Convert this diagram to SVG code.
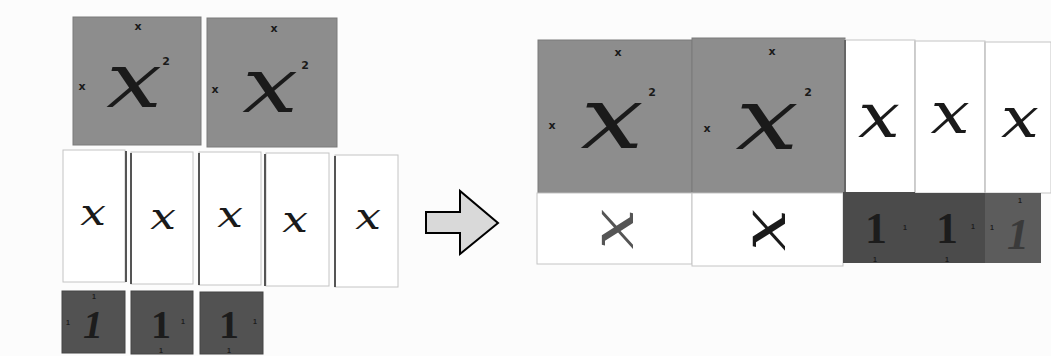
<svg xmlns="http://www.w3.org/2000/svg" width="1051" height="356" viewBox="0 0 1051 356">
<style>
.sq{fill:#8d8d8d;stroke:#7a7a7a;stroke-width:1}
.wt{fill:#ffffff;stroke:#c4c4c4;stroke-width:1}
.dk{fill:#525252;stroke:#444;stroke-width:1}
.dk2{fill:#4b4b4b}
.dk3{fill:#5c5c5c}
.hx{font-family:"DejaVu Serif",serif;font-style:italic;fill:#1a1a1a;text-anchor:middle}
.lb{font-family:"DejaVu Sans",sans-serif;font-weight:bold;fill:#1a1a1a;text-anchor:middle;font-size:11px}
.one{font-family:"Liberation Serif",serif;font-weight:bold;fill:#1c1c1c;text-anchor:middle}
.s1{font-family:"Liberation Sans",sans-serif;font-weight:bold;fill:#1c1c1c;text-anchor:middle;font-size:7px}
.sh{stroke:#555;stroke-width:2}
</style>
<rect width="1051" height="356" fill="#fcfcfc"/>

<!-- left side -->
<g id="x2-left-1">
<rect class="sq" x="73" y="17" width="128" height="128"/>
<text class="lb" x="138" y="30">x</text>
<text class="lb" x="82" y="90">x</text>
<text class="hx" x="0" y="0" font-size="76" transform="translate(134,107) scale(1.3,1)">x</text>
<text class="lb" x="166" y="65" font-size="14">2</text>
</g>
<g id="x2-left-2">
<rect class="sq" x="207" y="18" width="130" height="129"/>
<text class="lb" x="274" y="32">x</text>
<text class="lb" x="215" y="93">x</text>
<text class="hx" x="0" y="0" font-size="76" transform="translate(270,112) scale(1.3,1)">x</text>
<text class="lb" x="305" y="69" font-size="14">2</text>
</g>

<g id="x-left-1">
<rect class="wt" x="63" y="150" width="62" height="132"/>
<line class="sh" x1="126" y1="151" x2="126" y2="282"/>
<text class="hx" x="0" y="0" font-size="38" transform="translate(93,225) scale(1.2,1)">x</text>
</g>
<g id="x-left-2">
<rect class="wt" x="131" y="152" width="62" height="132"/>
<line class="sh" x1="131" y1="153" x2="131" y2="284" stroke="#999"/>
<text class="hx" x="0" y="0" font-size="38" transform="translate(163,229) scale(1.2,1)">x</text>
</g>
<g id="x-left-3">
<rect class="wt" x="199" y="152" width="62" height="133"/>
<line class="sh" x1="199" y1="153" x2="199" y2="285" stroke="#888"/>
<text class="hx" x="0" y="0" font-size="38" transform="translate(230,227) scale(1.2,1)">x</text>
</g>
<g id="x-left-4">
<rect class="wt" x="266" y="153" width="63" height="133"/>
<line class="sh" x1="265" y1="154" x2="265" y2="286" stroke="#888"/>
<text class="hx" x="0" y="0" font-size="38" transform="translate(295,232) scale(1.2,1)">x</text>
</g>
<g id="x-left-5">
<rect class="wt" x="335" y="155" width="63" height="132"/>
<line class="sh" x1="335" y1="156" x2="335" y2="287" stroke="#888"/>
<text class="hx" x="0" y="0" font-size="38" transform="translate(368,229) scale(1.2,1)">x</text>
</g>

<g id="one-left-1">
<rect class="dk" x="62" y="291" width="63" height="62"/>
<text class="one" x="93" y="338" font-size="40" font-style="italic">1</text>
<text class="s1" x="94" y="299">1</text>
<text class="s1" x="68" y="325">1</text>
</g>
<g id="one-left-2">
<rect class="dk" x="131" y="291" width="62" height="63"/>
<text class="one" x="161" y="338" font-size="40">1</text>
<text class="s1" x="183" y="324">1</text>
<text class="s1" x="161" y="353">1</text>
</g>
<g id="one-left-3">
<rect class="dk" x="200" y="292" width="63" height="62"/>
<text class="one" x="229" y="338" font-size="40">1</text>
<text class="s1" x="255" y="324">1</text>
<text class="s1" x="229" y="353">1</text>
</g>

<!-- arrow -->
<g id="arrow">
<polygon points="426,212 460,212 460,191 498,223 460,254 460,233 426,233" fill="#d9d9d9" stroke="#000" stroke-width="2" stroke-linejoin="miter"/>
</g>

<!-- right side -->
<g id="x2-right-1">
<rect class="sq" x="538" y="40" width="154" height="153"/>
<text class="lb" x="618" y="56">x</text>
<text class="lb" x="552" y="129">x</text>
<text class="hx" x="0" y="0" font-size="86" transform="translate(612,148) scale(1.3,1)">x</text>
<text class="lb" x="652" y="96" font-size="16">2</text>
</g>
<g id="x2-right-2">
<rect class="sq" x="692" y="38" width="153" height="155"/>
<text class="lb" x="772" y="55">x</text>
<text class="lb" x="707" y="132">x</text>
<text class="hx" x="0" y="0" font-size="86" transform="translate(767,149) scale(1.3,1)">x</text>
<text class="lb" x="808" y="96" font-size="16">2</text>
</g>

<g id="x-right-1">
<rect class="wt" x="845" y="40" width="70" height="153" stroke="none"/>
<line x1="845" y1="40" x2="845" y2="193" stroke="#666" stroke-width="2"/>
<text class="hx" x="0" y="0" font-size="62" transform="translate(879,137) scale(1.2,1)">x</text>
</g>
<g id="x-right-2">
<rect class="wt" x="915" y="41" width="70" height="152" stroke="none"/>
<line x1="915" y1="41" x2="915" y2="193" stroke="#c8c8c8" stroke-width="1.5"/>
<text class="hx" x="0" y="0" font-size="58" transform="translate(950,133) scale(1.2,1)">x</text>
</g>
<g id="x-right-3">
<rect class="wt" x="985" y="42" width="66" height="151" stroke="none"/>
<line x1="985" y1="42" x2="985" y2="193" stroke="#c8c8c8" stroke-width="1.5"/>
<text class="hx" x="0" y="0" font-size="56" transform="translate(1020,137) scale(1.2,1)">x</text>
</g>

<g id="x-right-4">
<rect class="wt" x="537" y="193" width="155" height="71" stroke="#e0e0e0"/>
<text class="hx" x="0" y="0" font-size="60" transform="translate(633,229) rotate(-90) scale(1.2,1)" style="fill:#555">x</text>
</g>
<g id="x-right-5">
<rect class="wt" x="692" y="193" width="151" height="73" stroke="#d6d6d6"/>
<text class="hx" x="0" y="0" font-size="62" transform="translate(785,230) rotate(-90) scale(1.2,1)">x</text>
</g>

<g id="one-right-1">
<rect class="dk2" x="843" y="192" width="72" height="71"/>
<text class="one" x="876" y="243" font-size="44">1</text>
<text class="s1" x="905" y="230">1</text>
<text class="s1" x="875" y="262">1</text>
</g>
<g id="one-right-2">
<rect class="dk2" x="915" y="193" width="70" height="70" fill="#505050"/>
<text class="one" x="947" y="243" font-size="44">1</text>
<text class="s1" x="973" y="229">1</text>
<text class="s1" x="947" y="262">1</text>
</g>
<g id="one-right-3">
<rect class="dk3" x="985" y="193" width="56" height="70"/>
<text class="one" x="1018" y="249" font-size="44" font-style="italic" style="fill:#3a3a3a">1</text>
<text class="s1" x="1020" y="203">1</text>
<text class="s1" x="992" y="230">1</text>
</g>
</svg>
